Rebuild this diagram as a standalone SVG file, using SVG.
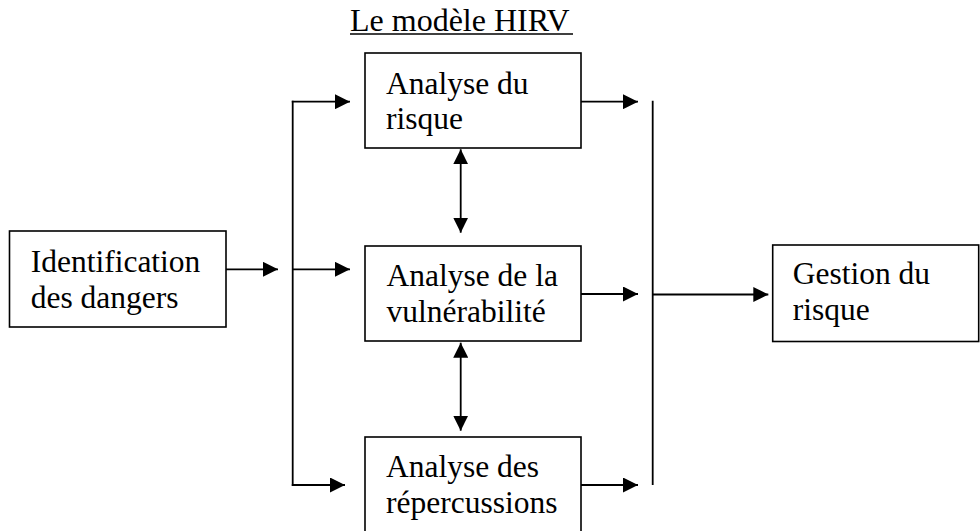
<svg xmlns="http://www.w3.org/2000/svg" width="980" height="531" viewBox="0 0 980 531">
<defs>
<marker id="ah" markerUnits="userSpaceOnUse" markerWidth="16" markerHeight="15" refX="15" refY="7.5" orient="auto-start-reverse" viewBox="0 0 16 15">
<path d="M0,0 L15,7.5 L0,15 z" fill="#000"/>
</marker>
<style>
.box{fill:#fff;stroke:#000;stroke-width:1.6}
.t{font-family:"Liberation Serif","Times New Roman",serif;font-size:31.5px;fill:#000}
.c{fill:none;stroke:#000;stroke-width:1.8}
.a{marker-end:url(#ah)}
.d{marker-start:url(#ah);marker-end:url(#ah)}
</style>
</defs>
<rect width="980" height="531" fill="#fff"/>
<g id="title">
<text class="t" x="350" y="31" style="font-size:32px">Le modèle HIRV</text>
<line x1="350" y1="34" x2="573" y2="34" stroke="#000" stroke-width="1.6"/>
</g>
<g id="identification">
<rect class="box" x="9.5" y="231" width="216.5" height="96"/>
<text class="t" x="30.7" y="271.7">Identification</text>
<text class="t" x="30.7" y="307.5">des dangers</text>
</g>
<g id="analyse-risque">
<rect class="box" x="365" y="53" width="216" height="95"/>
<text class="t" x="386" y="93.5">Analyse du</text>
<text class="t" x="386" y="129">risque</text>
</g>
<g id="analyse-vulnerabilite">
<rect class="box" x="365" y="246" width="216" height="95"/>
<text class="t" x="386.5" y="285.7">Analyse de la</text>
<text class="t" x="386.5" y="321.5">vulnérabilité</text>
</g>
<g id="analyse-repercussions">
<rect class="box" x="365" y="437" width="216" height="100"/>
<text class="t" x="386" y="477">Analyse des</text>
<text class="t" x="386" y="513">répercussions</text>
</g>
<g id="gestion">
<rect class="box" x="772.7" y="245" width="206" height="96.5"/>
<text class="t" x="792.7" y="284">Gestion du</text>
<text class="t" x="792.7" y="319.5">risque</text>
</g>
<g id="connectors">
<line class="c a" x1="226" y1="269.3" x2="278" y2="269.3"/>
<line class="c" x1="292.7" y1="100.8" x2="292.7" y2="485.9"/>
<line class="c a" x1="291.8" y1="101.7" x2="350" y2="101.7"/>
<line class="c a" x1="292.7" y1="269.3" x2="350" y2="269.3"/>
<line class="c a" x1="291.8" y1="485" x2="345" y2="485"/>
<line class="c a" x1="581" y1="101.7" x2="638" y2="101.7"/>
<line class="c a" x1="581" y1="294" x2="638" y2="294"/>
<line class="c a" x1="581" y1="485" x2="638" y2="485"/>
<line class="c" x1="652.7" y1="100.7" x2="652.7" y2="485"/>
<line class="c a" x1="652.7" y1="294.5" x2="768.3" y2="294.5"/>
<line class="c d" x1="460.7" y1="149.3" x2="460.7" y2="232.7"/>
<line class="c d" x1="460.7" y1="342.7" x2="460.7" y2="430.7"/>
</g>
</svg>
